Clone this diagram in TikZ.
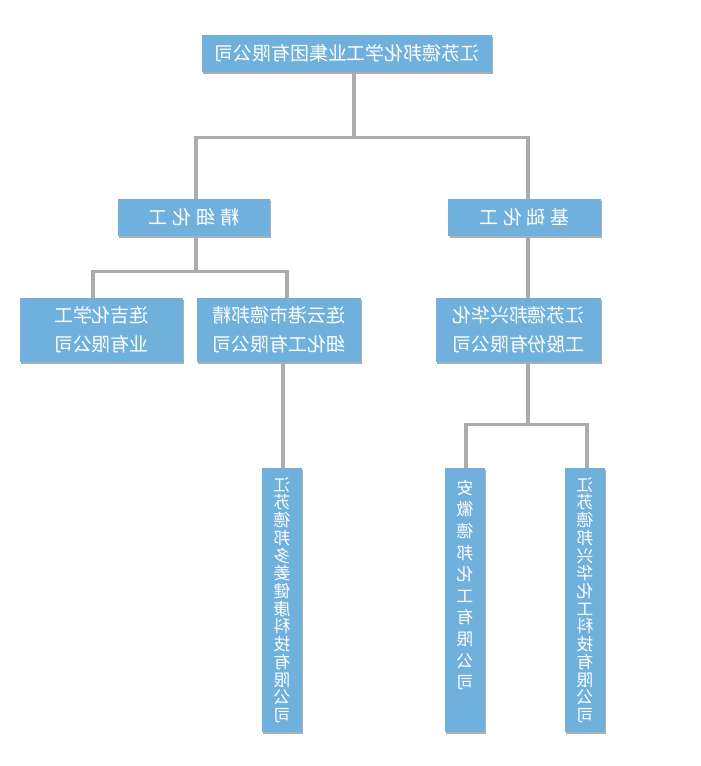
\documentclass[tikz,border=0pt]{standalone}
\usepackage{fontspec}
\setmainfont{Liberation Sans}
\newfontfamily\cjk{Noto Sans CJK SC}
\usepackage{graphicx}
\usepackage{xcolor}
\usetikzlibrary{positioning,calc,shadows}

\definecolor{boxblue}{RGB}{111,176,220}
\definecolor{linkgray}{RGB}{172,172,172}

% mirrored text block, lines split by \\
\newcommand\flip[2][8em]{\reflectbox{\parbox{#1}{\centering #2}}}

\begin{document}
\begin{tikzpicture}[
    x=0.025cm, y=-0.025cm,
    unit/.style={
        rectangle, fill=boxblue, text=white,
        inner sep=0pt, align=center,
        drop shadow={shadow xshift=1pt, shadow yshift=-1.2pt, fill=black!45, opacity=0.7}
    },
    head/.style={unit, minimum width=7.25cm, minimum height=0.925cm,
        font=\cjk\fontsize{13.5}{16}\selectfont},
    branch/.style={unit, minimum width=3.8cm, minimum height=0.925cm,
        font=\cjk\fontsize{13.5}{16}\selectfont},
    firm/.style={unit, minimum width=4.1cm, minimum height=1.6cm,
        font=\cjk\fontsize{13.5}{20.6}\selectfont},
    tall/.style={unit, minimum width=1cm, minimum height=6.6cm,
        font=\cjk\fontsize{12}{#1}\selectfont},
    link/.style={draw=linkgray, line width=2.5pt}
]
\useasboundingbox (0,0) rectangle (700,766);

\def\yTop{53.5}
\def\yMid{217.5}
\def\yFirm{330}
\def\yTall{600}

\node[head] (group) at (347, \yTop) {\reflectbox{江苏德邦化学工业集团有限公司}};

\node[branch] (fine) at (194, \yMid) {\reflectbox{精\hspace{0.12cm}细\hspace{0.12cm}化\hspace{0.12cm}工}};
\node[branch] (basic) at (524.5, \yMid) {\reflectbox{基\hspace{0.12cm}础\hspace{0.12cm}化\hspace{0.12cm}工}};

\node[firm, minimum width=4.075cm] (lianji) at (101.5, \yFirm) {\flip{连吉化学工\\业有限公司}};
\node[firm] (lyg) at (279, \yFirm) {\flip{连云港市德邦精\\细化工有限公司}};
\node[firm, minimum width=4.125cm] (xinghua) at (518.5, \yFirm) {\flip{江苏德邦兴华化\\工股份有限公司}};

\node[tall=12.6] (health) at (282, \yTall) {\flip[1.2em]{江\\苏\\德\\邦\\多\\姜\\健\\康\\科\\技\\有\\限\\公\\司}};
\node[tall=15.4] (anhui) at (465, \yTall) {\flip[1.2em]{安\\徽\\德\\邦\\化\\工\\有\\限\\公\\司\par\vspace*{0.75cm}}};
\node[tall=12.6] (xhtech) at (585, \yTall) {\flip[1.2em]{江\\苏\\德\\邦\\兴\\华\\化\\工\\科\\技\\有\\限\\公\\司}};

% connectors
\draw[link] ($(group.south)+(7,0)$) -- ++(0,65) coordinate (busA);
\draw[link] ($(fine.north)+(2,0)$) |- (busA) -| ($(basic.north)+(3.5,0)$);

\draw[link] ($(fine.south)+(2,0)$) -- ++(0,35) coordinate (busB);
\draw[link] ($(lianji.north)+(-8.5,0)$) |- (busB) -| ($(lyg.north)+(8,0)$);

\draw[link] ($(basic.south)+(3.5,0)$) -- ($(xinghua.north)+(9.5,0)$);

\draw[link] ($(lyg.south)+(4,0)$) -- ($(health.north)+(1,0)$);

\draw[link] ($(xinghua.south)+(9.5,0)$) -- ++(0,62) coordinate (busC);
\draw[link] ($(anhui.north)+(1,0)$) |- (busC) -| ($(xhtech.north)+(2,0)$);

\end{tikzpicture}
\end{document}
